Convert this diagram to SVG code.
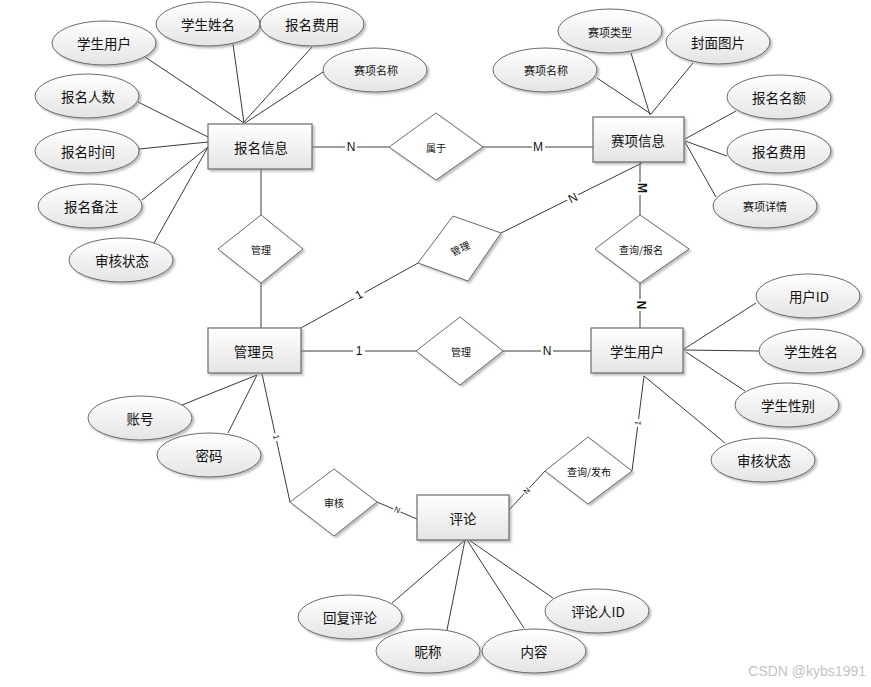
<svg xmlns="http://www.w3.org/2000/svg" width="871" height="687" viewBox="0 0 871 687">
<defs>
<linearGradient id="g" x1="0" y1="0" x2="0" y2="1">
<stop offset="0" stop-color="#ffffff"/>
<stop offset="1" stop-color="#e4e4e4"/>
</linearGradient>
<filter id="sh" x="-20%" y="-20%" width="140%" height="150%">
<feDropShadow dx="2" dy="2" stdDeviation="1" flood-color="#888" flood-opacity="0.55"/>
</filter>
</defs>
<style>
.e{fill:url(#g);stroke:#6b6b6b;stroke-width:1;filter:url(#sh)}
.r{fill:url(#g);stroke:#6b6b6b;stroke-width:1.2;filter:url(#sh)}
.d{fill:#ffffff;stroke:#6b6b6b;stroke-width:1;filter:url(#sh)}
.l{stroke:#3a3a3a;stroke-width:1;fill:none}
.t{font-family:"Noto Sans CJK SC","Liberation Sans",sans-serif;font-size:13.5px;fill:#111;text-anchor:middle;dominant-baseline:central}
.s{font-size:11px}
.x{font-size:10px}
.c{font-family:"Liberation Sans",sans-serif;font-size:12px;fill:#111;text-anchor:middle;dominant-baseline:central}
.cs{font-size:8px}
.bg{fill:#ffffff}
</style>
<rect width="871" height="687" fill="#ffffff"/>
<g id="connectors">
<line class="l" x1="145" y1="57" x2="244" y2="123"/>
<line class="l" x1="233" y1="44" x2="244" y2="123"/>
<line class="l" x1="312" y1="47" x2="244" y2="122"/>
<line class="l" x1="323" y1="72" x2="245" y2="123"/>
<line class="l" x1="138" y1="102" x2="208" y2="137"/>
<line class="l" x1="139" y1="149" x2="208" y2="142"/>
<line class="l" x1="142" y1="200" x2="208" y2="147"/>
<line class="l" x1="154" y1="243" x2="208" y2="147"/>
<line class="l" x1="597" y1="78" x2="651" y2="114"/>
<line class="l" x1="631" y1="53" x2="650" y2="115"/>
<line class="l" x1="693" y1="63" x2="651" y2="114"/>
<line class="l" x1="736" y1="111" x2="685" y2="139"/>
<line class="l" x1="727" y1="156" x2="685" y2="141"/>
<line class="l" x1="716" y1="197" x2="685" y2="142"/>
<line class="l" x1="756" y1="303" x2="684" y2="349"/>
<line class="l" x1="759" y1="351" x2="684" y2="350"/>
<line class="l" x1="745" y1="391" x2="686" y2="352"/>
<line class="l" x1="725" y1="443" x2="644" y2="376"/>
<line class="l" x1="182" y1="405" x2="257" y2="375"/>
<line class="l" x1="228" y1="433" x2="257" y2="375"/>
<line class="l" x1="392" y1="603" x2="465" y2="540"/>
<line class="l" x1="447" y1="630" x2="465" y2="540"/>
<line class="l" x1="524" y1="628" x2="467" y2="540"/>
<line class="l" x1="553" y1="598" x2="469" y2="540"/>
<line class="l" x1="312" y1="147" x2="389" y2="147"/>
<line class="l" x1="483" y1="147" x2="593" y2="147"/>
<line class="l" x1="261" y1="169" x2="261" y2="215"/>
<line class="l" x1="261" y1="283" x2="261" y2="328"/>
<line class="l" x1="301" y1="328" x2="418" y2="263"/>
<line class="l" x1="501" y1="233" x2="642" y2="163"/>
<line class="l" x1="640" y1="162" x2="640" y2="215" stroke="#888" stroke-width="1.5"/>
<line class="l" x1="640" y1="283" x2="640" y2="328" stroke="#888" stroke-width="1.5"/>
<line class="l" x1="301" y1="351" x2="416" y2="351"/>
<line class="l" x1="503" y1="351" x2="591" y2="351"/>
<line class="l" x1="262" y1="374" x2="290" y2="502"/>
<line class="l" x1="377" y1="502" x2="417" y2="519"/>
<line class="l" x1="509" y1="510" x2="545" y2="471"/>
<line class="l" x1="632" y1="471" x2="644" y2="376"/>
<rect class="bg" x="345" y="140" width="12" height="14"/>
<text class="c" x="351" y="147">N</text>
<rect class="bg" x="532" y="140" width="13" height="14"/>
<text class="c" x="538" y="147">M</text>
<rect class="bg" x="353" y="289" width="12" height="13" transform="rotate(-29 359 295)"/>
<text class="c" x="359" y="295" transform="rotate(-29 359 295)">1</text>
<rect class="bg" x="567" y="191" width="12" height="13" transform="rotate(-26 573 198)"/>
<text class="c" x="573" y="198" transform="rotate(-26 573 198)">N</text>
<rect class="bg" x="636" y="182" width="13" height="13" transform="rotate(90 642 188)"/>
<text class="c" x="642" y="188" transform="rotate(90 642 188)" font-weight="bold">M</text>
<rect class="bg" x="635" y="299" width="12" height="13" transform="rotate(90 641 305)"/>
<text class="c" x="641" y="305" transform="rotate(90 641 305)" font-weight="bold">N</text>
<rect class="bg" x="353" y="344" width="12" height="14"/>
<text class="c" x="359" y="351">1</text>
<rect class="bg" x="541" y="344" width="12" height="14"/>
<text class="c" x="547" y="351">N</text>
<rect class="bg" x="272" y="433" width="8" height="9" transform="rotate(77 276 437)"/>
<text class="c cs" x="276" y="437" transform="rotate(77 276 437)">1</text>
<rect class="bg" x="393" y="506" width="8" height="9" transform="rotate(22 397 510)"/>
<text class="c cs" x="397" y="510" transform="rotate(22 397 510)">N</text>
<rect class="bg" x="523" y="487" width="8" height="9" transform="rotate(-47 527 491)"/>
<text class="c cs" x="527" y="491" transform="rotate(-47 527 491)">N</text>
<rect class="bg" x="634" y="419" width="8" height="9" transform="rotate(-83 638 423)"/>
<text class="c cs" x="638" y="423" transform="rotate(-83 638 423)">1</text>
</g>
<g id="baoming">
<rect class="r" x="208" y="124" width="104" height="45"/>
<text class="t" x="261" y="147">报名信息</text>
</g>
<g id="saixiang">
<rect class="r" x="593" y="117" width="91" height="45"/>
<text class="t" x="638" y="140">赛项信息</text>
</g>
<g id="guanliyuan">
<rect class="r" x="208" y="328" width="93" height="45"/>
<text class="t" x="254" y="351">管理员</text>
</g>
<g id="xuesheng">
<rect class="r" x="591" y="328" width="92" height="45"/>
<text class="t" x="637" y="351">学生用户</text>
</g>
<g id="pinglun">
<rect class="r" x="417" y="495" width="92" height="45"/>
<text class="t" x="463" y="518">评论</text>
</g>
<g id="rel-shuyu">
<polygon class="d" points="436,113 483,147 436,180 389,147"/>
<text class="t x" x="436" y="147">属于</text>
</g>
<g id="rel-guanli1">
<polygon class="d" points="261,215 303,249 261,283 218,249"/>
<text class="t x" x="261" y="249">管理</text>
</g>
<g id="rel-guanli2">
<polygon class="d" points="453,216 501,233 468,281 418,263"/>
<text class="t x" x="460" y="248" fill="#666" transform="rotate(-25 460 248)">管理</text>
</g>
<g id="rel-chaxunbaoming">
<polygon class="d" points="640,215 689,249 640,283 595,249"/>
<text class="t x" x="641" y="249">查询/报名</text>
</g>
<g id="rel-guanli3">
<polygon class="d" points="460,317 503,351 460,385 416,351"/>
<text class="t x" x="461" y="351">管理</text>
</g>
<g id="rel-shenhe">
<polygon class="d" points="334,469 377,502 334,536 290,502"/>
<text class="t x" x="334" y="502">审核</text>
</g>
<g id="rel-chaxunfabu">
<polygon class="d" points="588,437 632,471 588,504 545,471"/>
<text class="t x" x="589" y="471">查询/发布</text>
</g>
<g id="a-xueshengyonghu"><ellipse class="e" cx="104" cy="43" rx="52" ry="22"/><text class="t" x="104" y="43">学生用户</text></g>
<g id="a-xueshengxingming"><ellipse class="e" cx="208" cy="24" rx="52" ry="22"/><text class="t" x="208" y="24">学生姓名</text></g>
<g id="a-baomingfeiyong"><ellipse class="e" cx="312" cy="24" rx="52" ry="22"/><text class="t" x="312" y="24">报名费用</text></g>
<g id="a-saixiangmingcheng"><ellipse class="e" cx="375" cy="70" rx="52" ry="22"/><text class="t s" x="376" y="70">赛项名称</text></g>
<g id="a-baomingrenshu"><ellipse class="e" cx="87" cy="96" rx="52" ry="22"/><text class="t" x="88" y="96">报名人数</text></g>
<g id="a-baomingshijian"><ellipse class="e" cx="87" cy="151" rx="52" ry="22"/><text class="t" x="88" y="151">报名时间</text></g>
<g id="a-baomingbeizhu"><ellipse class="e" cx="90" cy="206" rx="52" ry="22"/><text class="t" x="91" y="206">报名备注</text></g>
<g id="a-shenhezhuangtai1"><ellipse class="e" cx="121" cy="260" rx="52" ry="22"/><text class="t" x="122" y="260">审核状态</text></g>
<g id="a-saixiangleixing"><ellipse class="e" cx="610" cy="31" rx="52" ry="22"/><text class="t s" x="610" y="32">赛项类型</text></g>
<g id="a-fengmiantupian"><ellipse class="e" cx="718" cy="42" rx="52" ry="22"/><text class="t" x="718" y="42">封面图片</text></g>
<g id="a-saixiangmingcheng2"><ellipse class="e" cx="545" cy="70" rx="52" ry="22"/><text class="t s" x="546" y="70">赛项名称</text></g>
<g id="a-baomingminge"><ellipse class="e" cx="779" cy="97" rx="52" ry="22"/><text class="t" x="779" y="97">报名名额</text></g>
<g id="a-baomingfeiyong2"><ellipse class="e" cx="779" cy="151" rx="52" ry="22"/><text class="t" x="779" y="151">报名费用</text></g>
<g id="a-saixiangxiangqing"><ellipse class="e" cx="765" cy="206" rx="52" ry="22"/><text class="t s" x="765" y="206">赛项详情</text></g>
<g id="a-yonghuid"><ellipse class="e" cx="808" cy="296" rx="52" ry="22"/><text class="t" x="809" y="296">用户ID</text></g>
<g id="a-xueshengxingming2"><ellipse class="e" cx="811" cy="351" rx="52" ry="22"/><text class="t" x="811" y="351">学生姓名</text></g>
<g id="a-xueshengxingbie"><ellipse class="e" cx="787" cy="405" rx="52" ry="22"/><text class="t" x="788" y="405">学生性别</text></g>
<g id="a-shenhezhuangtai2"><ellipse class="e" cx="763" cy="460" rx="52" ry="22"/><text class="t" x="764" y="460">审核状态</text></g>
<g id="a-zhanghao"><ellipse class="e" cx="140" cy="418" rx="52" ry="22"/><text class="t" x="140" y="418">账号</text></g>
<g id="a-mima"><ellipse class="e" cx="209" cy="455" rx="52" ry="22"/><text class="t" x="209" y="455">密码</text></g>
<g id="a-huifupinglun"><ellipse class="e" cx="350" cy="617" rx="52" ry="22"/><text class="t" x="350" y="617">回复评论</text></g>
<g id="a-nicheng"><ellipse class="e" cx="428" cy="651" rx="52" ry="22"/><text class="t" x="428" y="651">昵称</text></g>
<g id="a-neirong"><ellipse class="e" cx="534" cy="651" rx="52" ry="22"/><text class="t" x="534" y="651">内容</text></g>
<g id="a-pinglunrenid"><ellipse class="e" cx="597" cy="611" rx="52" ry="22"/><text class="t" x="598" y="611">评论人ID</text></g>
<text x="866" y="676" font-family="Liberation Sans, sans-serif" font-size="14" fill="#c4c4c4" text-anchor="end">CSDN @kybs1991</text>
</svg>
